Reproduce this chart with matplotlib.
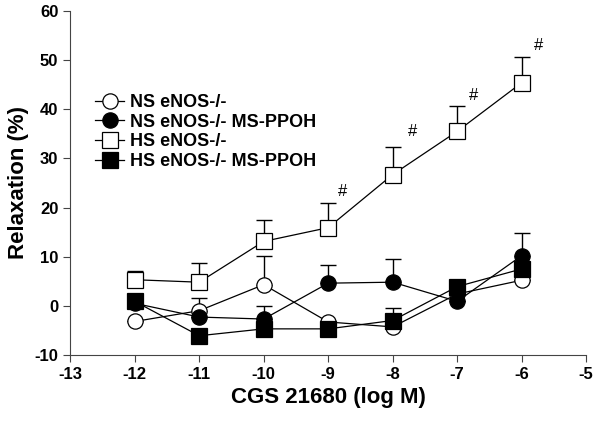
import numpy as np
import matplotlib
matplotlib.use("Agg")
import matplotlib.pyplot as plt

plt.rcParams['font.family'] = ['Liberation Sans', 'DejaVu Sans']
plt.rcParams['font.weight'] = 'bold'
plt.rcParams['axes.unicode_minus'] = False

# data
conc = [-12, -11, -10, -9, -8, -7, -6]

ns = [-3.2, -1.0, 4.3, -3.3, -4.3, 2.4, 5.2]
ns_err = [0.0, 2.6, 5.9, 0.0, 0.0, 0.0, 0.0]

ns_ppoh = [0.5, -2.3, -2.7, 4.6, 4.8, 0.9, 10.2]
ns_ppoh_err = [0.0, 0.0, 2.6, 3.7, 4.7, 0.0, 4.6]

hs = [5.3, 4.8, 13.1, 15.9, 26.7, 35.5, 45.4]
hs_err = [1.7, 4.0, 4.4, 5.0, 5.6, 5.1, 5.2]

hs_ppoh = [0.9, -6.1, -4.7, -4.7, -3.0, 3.9, 7.5]
hs_ppoh_err = [0.0, 0.0, 0.0, 0.0, 2.5, 1.4, 0.0]

# significance marks
hash_x = [-8.77, -7.70, -6.75, -5.74]
hash_y = [23.2, 35.4, 42.7, 52.9]

fig = plt.figure(figsize=(6, 4.22), dpi=100)
ax = fig.add_axes([0.117, 0.159, 0.86, 0.815])

series = [
    (ns, ns_err, 'o', 'white', 'NS eNOS-/-'),
    (ns_ppoh, ns_ppoh_err, 'o', 'black', 'NS eNOS-/- MS-PPOH'),
    (hs, hs_err, 's', 'white', 'HS eNOS-/-'),
    (hs_ppoh, hs_ppoh_err, 's', 'black', 'HS eNOS-/- MS-PPOH'),
]

for y, e, m, fc, lab in series:
    lo = np.zeros(len(e))
    ax.errorbar(conc, y, yerr=[lo, e], fmt='none', ecolor='black',
                elinewidth=1, capsize=6, capthick=1, zorder=1)
    ax.plot(conc, y, color='black', lw=0.9, marker=m, markersize=11,
            markerfacecolor=fc, markeredgecolor='black', markeredgewidth=0.9,
            label=lab, zorder=2)

for hx, hy in zip(hash_x, hash_y):
    ax.text(hx, hy, '#', ha='center', va='center', fontsize=12, fontweight='normal')

ax.set_xlim(-13, -5)
ax.set_ylim(-10, 60)
ax.set_xticks(np.arange(-13, -4, 1))
ax.set_yticks(np.arange(-10, 61, 10))
ax.spines['top'].set_visible(False)
ax.spines['right'].set_visible(False)
for s in ['left', 'bottom']:
    ax.spines[s].set_color('#444444')
ax.tick_params(direction='out', length=5, color='#444444', labelsize=12)
for t in ax.get_xticklabels() + ax.get_yticklabels():
    t.set_fontweight('bold')

ax.set_xlabel('CGS 21680 (log M)', fontsize=16, fontweight='bold')
ax.set_ylabel('Relaxation (%)', fontsize=16, fontweight='bold')

ax.legend(loc='upper left', bbox_to_anchor=(0.035, 0.78), frameon=False,
          fontsize=13, handlelength=1.6, handletextpad=0.3, labelspacing=0.15,
          borderaxespad=0)

fig.savefig('out.png', dpi=100)
